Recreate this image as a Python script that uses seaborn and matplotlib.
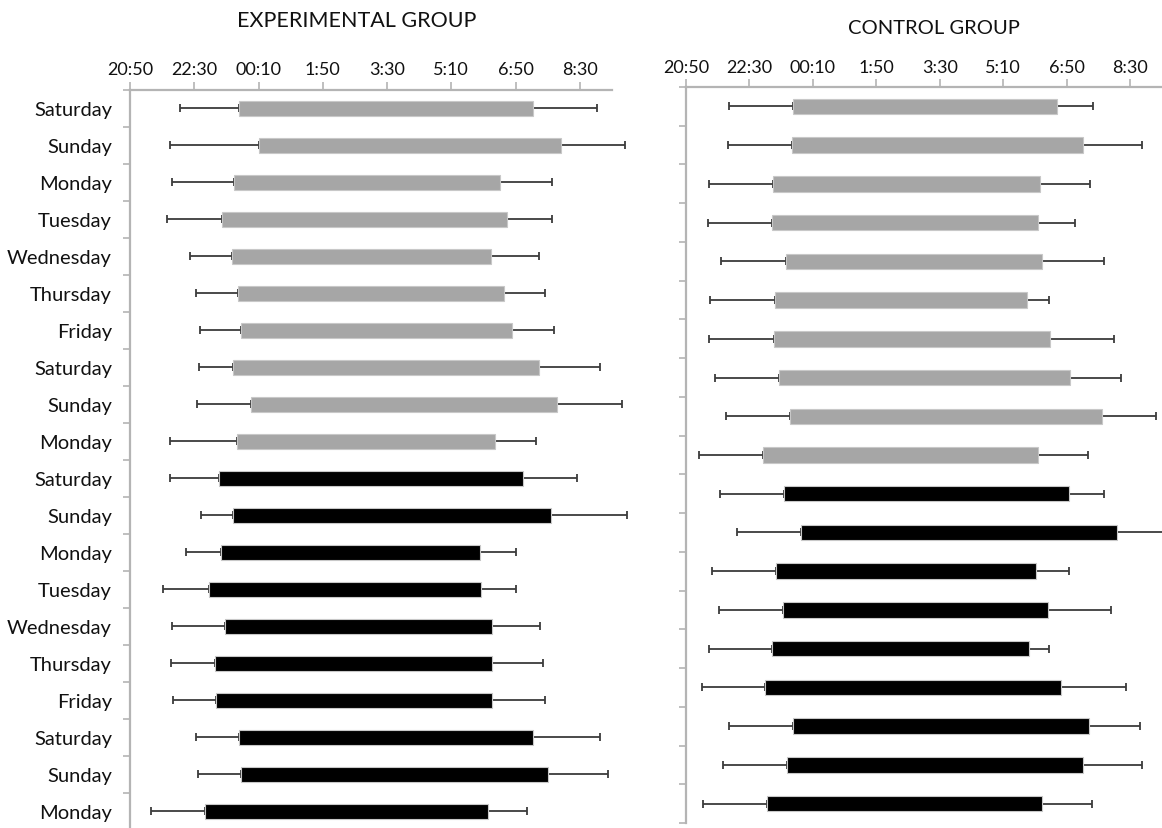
import numpy as np
import pandas as pd
import matplotlib
matplotlib.use("Agg")
import matplotlib.pyplot as plt
import seaborn as sns

# times are minutes after 20:50
tick_minutes = [0, 100, 200, 300, 400, 500, 600, 700]
tick_labels = ["20:50", "22:30", "00:10", "1:50", "3:30", "5:10", "6:50", "8:30"]

exp_days = ["Saturday", "Sunday", "Monday", "Tuesday", "Wednesday", "Thursday", "Friday",
            "Saturday", "Sunday", "Monday",
            "Saturday", "Sunday", "Monday", "Tuesday", "Wednesday", "Thursday", "Friday",
            "Saturday", "Sunday", "Monday"]
exp_lo = np.array([78, 62, 66, 58, 94, 102, 109, 108, 104, 62,
                   63, 111, 87, 52, 66, 64, 67, 103, 106, 32])
exp_start = np.array([170, 200, 162, 143, 158, 168, 173, 161, 188, 166,
                      138, 160, 141, 123, 148, 132, 134, 170, 172, 116])
exp_end = np.array([627, 670, 576, 587, 562, 582, 594, 636, 664, 568,
                    612, 655, 544, 546, 563, 564, 563, 627, 651, 557])
exp_hi = np.array([727, 770, 656, 657, 637, 646, 660, 732, 766, 632,
                   695, 774, 600, 601, 638, 643, 645, 731, 744, 618])
exp_n_gray = 10

ctl_lo = np.array([68, 66, 37, 34, 55, 38, 37, 46, 63, 21,
                   53, 80, 41, 52, 36, 25, 67, 58, 27])
ctl_start = np.array([169, 167, 137, 136, 157, 140, 139, 147, 164, 122,
                      154, 181, 142, 153, 136, 125, 168, 159, 128])
ctl_end = np.array([584, 626, 557, 554, 561, 538, 573, 605, 656, 554,
                    604, 679, 551, 570, 541, 591, 635, 625, 561])
ctl_hi = np.array([642, 719, 636, 613, 659, 572, 674, 686, 741, 634,
                   659, 790, 603, 669, 572, 693, 715, 719, 640])
ctl_n_gray = 10

GRAY = "#a6a6a6"
AXIS = "#b4b4b4"
WHISK = "#3c3c3c"

sns.set_style("white")
plt.rcParams["font.family"] = ["Lato", "DejaVu Sans"]


def draw_panel(ax, lo, start, end, hi, n_gray, day_labels=None):
    n = len(start)
    rows = np.arange(n)
    df = pd.DataFrame({"row": rows, "dur": end - start})
    sns.barplot(data=df, x="dur", y="row", orient="y", order=list(rows),
                width=0.4, errorbar=None, left=start, color=GRAY,
                edgecolor="#c8c8c8", linewidth=0.8, ax=ax)
    colors = [GRAY] * n_gray + ["black"] * (n - n_gray)
    for p, c in zip(ax.patches, colors):
        p.set_facecolor(c)
        p.set_zorder(2)

    zeros = np.zeros(n)
    for x, err in [(start, [start - lo, zeros]), (end, [zeros, hi - end])]:
        eb = ax.errorbar(x, rows, xerr=err, fmt="none", ecolor=WHISK,
                         elinewidth=1.3, capsize=3, capthick=1.3, zorder=1)
        for art in eb.get_children():
            art.set_clip_on(False)

    ax.set_xlim(0, 750)
    ax.set_ylim(n - 0.5, -0.5)
    ax.xaxis.tick_top()
    ax.set_xticks(tick_minutes)
    ax.set_xticklabels(tick_labels)
    ax.tick_params(axis="x", direction="out", length=6, width=1.2, color=AXIS,
                   labelsize=13, pad=3, labelcolor="#111111")
    ax.set_yticks(np.arange(n + 1) - 0.5, minor=True)
    ax.tick_params(axis="y", which="minor", direction="out", length=5, width=1.2,
                   color=AXIS, left=True)
    if day_labels is not None:
        ax.set_yticks(rows)
        ax.set_yticklabels(day_labels)
        ax.tick_params(axis="y", which="major", length=0, labelsize=14.5, pad=13,
                       labelcolor="#111111")
    else:
        ax.set_yticks([])
    ax.set_xlabel("")
    ax.set_ylabel("")
    for side in ["right", "bottom"]:
        ax.spines[side].set_visible(False)
    for side in ["top", "left"]:
        ax.spines[side].set_color(AXIS)
        ax.spines[side].set_linewidth(1.6)


fig = plt.figure(figsize=(11.62, 8.29), dpi=100)
W, H = 1162, 829
ax1 = fig.add_axes([130 / W, 1 - 831 / H, (612 - 130) / W, (831 - 91) / H])
ax2 = fig.add_axes([686 / W, 1 - 824 / H, (1162 - 686) / W, (824 - 88) / H])

draw_panel(ax1, exp_lo, exp_start, exp_end, exp_hi, exp_n_gray, exp_days)
draw_panel(ax2, ctl_lo, ctl_start, ctl_end, ctl_hi, ctl_n_gray)

fig.text(357 / W, 1 - 21 / H, "EXPERIMENTAL GROUP", ha="center", va="center",
         fontsize=15.5, color="#111111")
fig.text(934 / W, 1 - 29 / H, "CONTROL GROUP", ha="center", va="center",
         fontsize=14.5, color="#111111")

fig.savefig("out.png", dpi=100)
